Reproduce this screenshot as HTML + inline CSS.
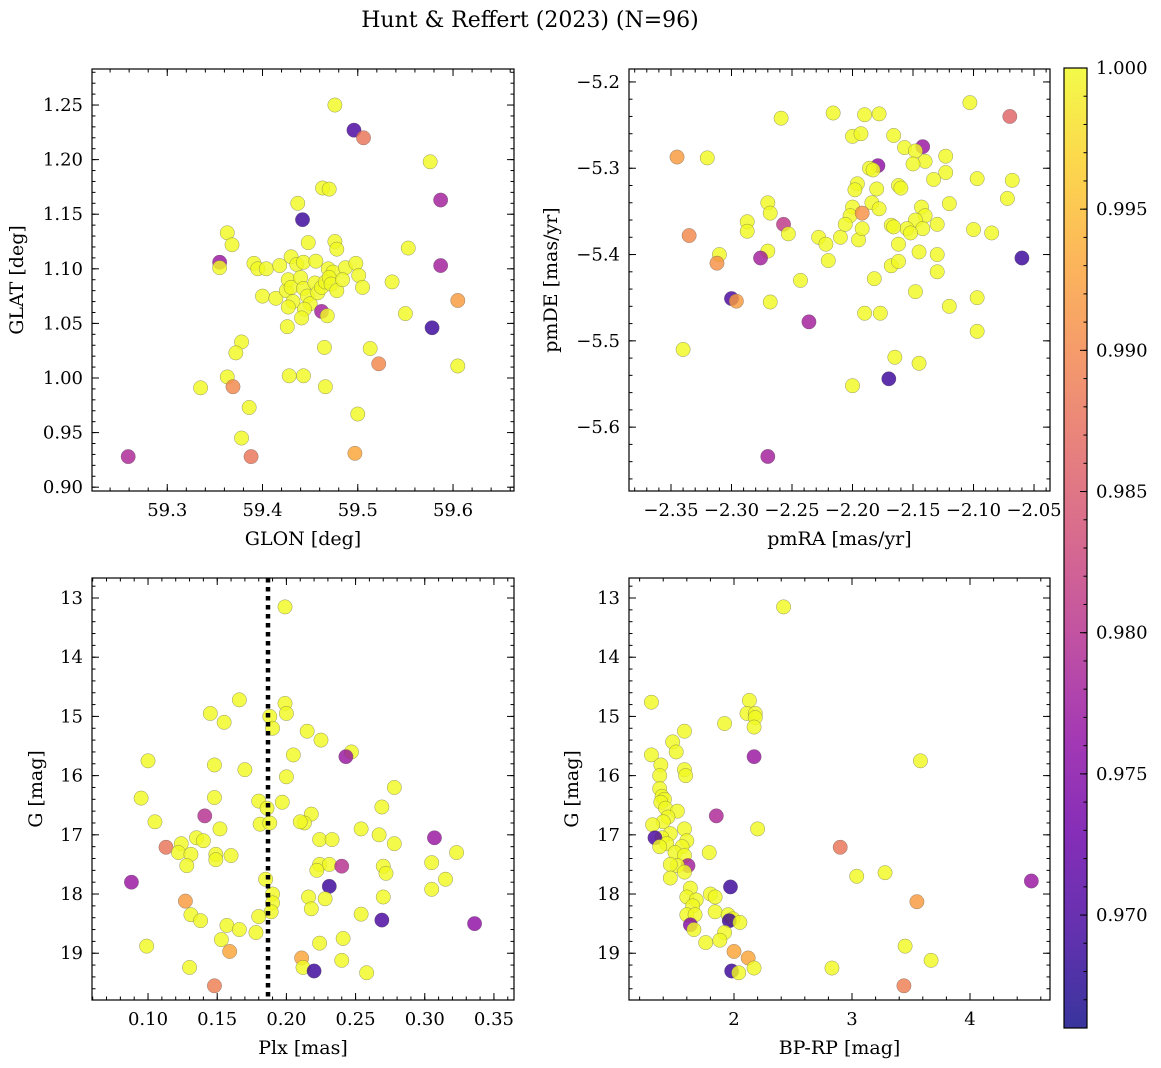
<!DOCTYPE html>
<html><head><meta charset="utf-8"><style>
body{margin:0;background:#fff;}
svg{display:block;font-family:"DejaVu Serif","Liberation Serif",serif;}
</style></head><body>
<svg id="fig" width="1161" height="1068" viewBox="0 0 1161 1068" xmlns="http://www.w3.org/2000/svg">
<defs>
<linearGradient id="plasma" x1="0" y1="1" x2="0" y2="0">
<stop offset="0" stop-color="#0d0887"/><stop offset="0.1" stop-color="#41049d"/><stop offset="0.2" stop-color="#6a00a8"/><stop offset="0.3" stop-color="#8f0da4"/><stop offset="0.4" stop-color="#b12a90"/><stop offset="0.5" stop-color="#cc4778"/><stop offset="0.6" stop-color="#e16462"/><stop offset="0.7" stop-color="#f2844b"/><stop offset="0.8" stop-color="#fca636"/><stop offset="0.9" stop-color="#fcce25"/><stop offset="1" stop-color="#f0f921"/>
</linearGradient>
</defs>
<text x="530" y="27" font-size="22" text-anchor="middle">Hunt &amp; Reffert (2023) (N=96)</text>
</svg>
<script>
// Panel 1: GLON / GLAT
const glon1=[59.476,59.496,59.506,59.576,59.587,59.463,59.470,59.437,59.442,59.363,59.368,59.355,59.355,59.476,59.478,59.448,59.391,59.395,59.404,59.418,59.430,59.436,59.443,59.456,59.469,59.474,59.487,59.498,59.501,59.536,59.553,59.587,59.605,59.400,59.414,59.425,59.427,59.430,59.432,59.440,59.443,59.447,59.450,59.455,59.458,59.462,59.466,59.470,59.472,59.478,59.484,59.505,59.427,59.444,59.462,59.468,59.441,59.426,59.578,59.550,59.378,59.372,59.465,59.513,59.363,59.369,59.335,59.428,59.443,59.466,59.522,59.605,59.386,59.500,59.378,59.259,59.388,59.497];
const glat1=[1.250,1.227,1.220,1.198,1.163,1.174,1.173,1.160,1.145,1.133,1.122,1.106,1.101,1.125,1.118,1.124,1.105,1.100,1.100,1.103,1.111,1.104,1.106,1.107,1.100,1.097,1.101,1.105,1.094,1.088,1.119,1.103,1.071,1.075,1.073,1.080,1.090,1.083,1.070,1.092,1.082,1.075,1.068,1.087,1.078,1.083,1.088,1.092,1.086,1.080,1.090,1.083,1.065,1.063,1.061,1.057,1.055,1.047,1.046,1.059,1.033,1.023,1.028,1.027,1.001,0.992,0.991,1.002,1.002,0.992,1.013,1.011,0.973,0.967,0.945,0.928,0.928,0.931];
const prob1=[1,0.970,0.988,1,0.978,1,1,1,0.969,1,1,0.977,1,1,1,1,1,1,1,1,1,1,1,1,1,1,1,1,1,1,1,0.978,0.992,1,1,1,1,1,1,1,1,1,1,1,1,1,1,1,1,1,1,1,1,1,0.978,1,1,1,0.969,1,1,1,1,1,1,0.990,1,1,1,1,0.990,1,1,1,1,0.979,0.988,0.993];
// Panel 2: pmRA / pmDE
const pmra2=[-2.103,-2.216,-2.190,-2.178,-2.070,-2.345,-2.259,-2.166,-2.200,-2.193,-2.142,-2.157,-2.148,-2.123,-2.123,-2.320,-2.140,-2.179,-2.186,-2.183,-2.150,-2.196,-2.198,-2.180,-2.162,-2.160,-2.133,-2.097,-2.068,-2.072,-2.120,-2.184,-2.200,-2.202,-2.192,-2.178,-2.143,-2.140,-2.148,-2.142,-2.130,-2.155,-2.152,-2.168,-2.166,-2.100,-2.085,-2.270,-2.268,-2.287,-2.287,-2.257,-2.253,-2.228,-2.222,-2.210,-2.206,-2.195,-2.192,-2.162,-2.168,-2.162,-2.145,-2.130,-2.130,-2.060,-2.335,-2.310,-2.312,-2.270,-2.276,-2.243,-2.220,-2.182,-2.148,-2.300,-2.296,-2.268,-2.120,-2.097,-2.236,-2.190,-2.177,-2.097,-2.340,-2.165,-2.145,-2.200,-2.170,-2.270];
const pmde2=[-5.224,-5.236,-5.238,-5.237,-5.240,-5.287,-5.242,-5.262,-5.263,-5.260,-5.275,-5.276,-5.280,-5.286,-5.305,-5.288,-5.292,-5.297,-5.300,-5.302,-5.295,-5.318,-5.325,-5.324,-5.320,-5.323,-5.313,-5.312,-5.314,-5.335,-5.341,-5.340,-5.345,-5.355,-5.352,-5.347,-5.345,-5.355,-5.360,-5.370,-5.365,-5.370,-5.375,-5.366,-5.368,-5.371,-5.375,-5.340,-5.352,-5.362,-5.373,-5.365,-5.376,-5.380,-5.388,-5.380,-5.365,-5.383,-5.370,-5.388,-5.413,-5.408,-5.397,-5.400,-5.420,-5.404,-5.378,-5.400,-5.410,-5.396,-5.404,-5.430,-5.407,-5.428,-5.443,-5.451,-5.454,-5.455,-5.460,-5.450,-5.478,-5.468,-5.468,-5.489,-5.510,-5.519,-5.526,-5.552,-5.544,-5.634];
const prob2=[1,1,1,1,0.986,0.992,1,1,1,1,0.977,1,1,1,1,1,1,0.976,1,1,1,1,1,1,1,1,1,1,1,1,1,1,1,1,0.991,1,1,1,1,1,1,1,1,1,1,1,1,1,1,1,1,0.981,1,1,1,1,1,1,1,1,1,1,1,1,1,0.969,0.990,1,0.991,1,0.978,1,1,1,1,0.970,0.992,1,1,1,0.978,1,1,1,1,1,1,1,0.969,0.978];
// Panel 3: Plx / G
const plx3=[0.199,0.166,0.199,0.145,0.200,0.188,0.155,0.190,0.215,0.225,0.205,0.247,0.243,0.100,0.148,0.170,0.200,0.278,0.095,0.148,0.180,0.197,0.186,0.269,0.218,0.105,0.141,0.181,0.188,0.213,0.210,0.152,0.254,0.267,0.135,0.140,0.124,0.224,0.233,0.307,0.113,0.122,0.160,0.131,0.149,0.149,0.128,0.224,0.231,0.240,0.270,0.278,0.323,0.305,0.222,0.272,0.185,0.315,0.088,0.231,0.305,0.190,0.270,0.216,0.228,0.127,0.190,0.218,0.189,0.254,0.131,0.138,0.180,0.269,0.336,0.157,0.166,0.178,0.153,0.224,0.241,0.099,0.159,0.211,0.240,0.130,0.212,0.220,0.258,0.148];
const g3=[13.15,14.72,14.78,14.95,14.95,15.00,15.10,15.20,15.25,15.40,15.65,15.60,15.68,15.75,15.82,15.90,16.02,16.20,16.38,16.37,16.43,16.45,16.55,16.53,16.65,16.78,16.68,16.82,16.80,16.80,16.78,16.90,16.90,17.00,17.05,17.10,17.15,17.08,17.08,17.05,17.21,17.30,17.35,17.33,17.33,17.42,17.52,17.50,17.50,17.53,17.53,17.15,17.30,17.47,17.60,17.65,17.75,17.75,17.80,17.87,17.92,18.00,18.05,18.05,18.08,18.12,18.15,18.25,18.30,18.34,18.35,18.45,18.38,18.44,18.50,18.53,18.60,18.65,18.77,18.83,18.75,18.88,18.97,19.08,19.12,19.24,19.24,19.30,19.33,19.55];
const prob3=[1,1,1,1,1,1,1,1,1,1,1,1,0.977,1,1,1,1,1,1,1,1,1,1,1,1,1,0.980,1,1,1,1,1,1,1,1,1,1,1,1,0.977,0.988,1,1,1,1,1,1,1,1,0.980,1,1,1,1,1,1,1,1,0.977,0.969,1,1,1,1,1,0.992,1,1,1,1,1,1,1,0.970,0.976,1,1,1,1,1,1,1,0.993,0.993,1,1,1,0.969,1,0.989];
// Panel 4: BP-RP / G
const bprp4=[2.42,1.30,2.13,2.11,2.18,2.18,2.17,1.92,1.48,1.58,1.30,1.51,2.17,3.58,1.38,1.58,1.37,1.59,1.37,1.39,1.41,1.38,1.42,1.52,1.85,1.44,1.40,1.31,1.58,2.20,1.46,1.39,1.33,1.43,1.60,1.37,1.56,1.50,1.79,1.58,1.61,1.52,1.46,2.90,3.04,3.28,1.58,1.46,1.97,1.63,1.80,1.84,1.60,1.68,1.65,1.84,1.60,1.67,1.95,1.99,1.96,2.05,1.63,1.66,1.92,1.76,1.88,3.55,4.52,2.00,2.12,3.45,3.67,2.17,2.83,1.98,2.04,3.44];
const g4=[13.15,14.76,14.73,14.95,14.95,15.02,15.18,15.12,15.43,15.25,15.65,15.60,15.68,15.75,15.82,15.90,16.00,16.00,16.22,16.35,16.40,16.45,16.55,16.60,16.68,16.70,16.78,16.83,16.90,16.90,16.98,17.05,17.05,17.15,17.10,17.20,17.20,17.30,17.30,17.35,17.52,17.52,17.50,17.21,17.70,17.64,17.63,17.73,17.88,17.90,18.00,18.05,18.05,18.10,18.20,18.30,18.35,18.35,18.35,18.42,18.45,18.48,18.52,18.60,18.65,18.82,18.78,18.13,17.78,18.97,19.08,18.88,19.12,19.25,19.25,19.30,19.33,19.55];
const prob4=[1,1,1,1,1,1,1,1,1,1,1,1,0.977,1,1,1,1,1,1,1,1,1,1,1,0.979,1,1,1,1,1,1,1,0.970,1,1,1,1,1,1,1,0.978,1,1,0.988,1,1,1,1,0.969,1,1,1,1,1,1,1,1,1,1,1,0.969,1,0.975,1,1,1,1,0.992,0.977,0.993,0.993,1,1,1,1,0.969,1,0.989];
// Colorbar
const cbTicks=[0.970,0.975,0.980,0.985,0.990,0.995,1.000];
const vmin=0.966, vmax=1.0;

const NS="http://www.w3.org/2000/svg";
const svg=document.getElementById('fig');
function mk(tag,attrs,parent){const e=document.createElementNS(NS,tag);for(const k in attrs)e.setAttribute(k,attrs[k]);(parent||svg).appendChild(e);return e;}
const stops=[[0,[13,8,135]],[0.1,[65,4,157]],[0.2,[106,0,168]],[0.3,[143,13,164]],[0.4,[177,42,144]],[0.5,[204,71,120]],[0.6,[225,100,98]],[0.7,[242,132,75]],[0.8,[252,166,54]],[0.9,[252,206,37]],[1,[240,249,33]]];
function plasma(t){t=Math.max(0,Math.min(1,t));for(let i=1;i<stops.length;i++){if(t<=stops[i][0]){const a=stops[i-1],b=stops[i];const f=(t-a[0])/(b[0]-a[0]);const c=a[1].map((v,j)=>Math.round(v+(b[1][j]-v)*f));return `rgb(${c[0]},${c[1]},${c[2]})`;}}return 'rgb(240,249,33)';}
function fmt(v,d){return v.toFixed(d).replace('-','\u2212');}

function panel(o){
  const g=mk('g',{});
  
  
  const X=v=>o.x0+(v-o.xd[0])/(o.xd[1]-o.xd[0])*(o.x1-o.x0);
  const Y=o.inv?(v=>o.y0+(v-o.yd[0])/(o.yd[1]-o.yd[0])*(o.y1-o.y0)):(v=>o.y1-(v-o.yd[0])/(o.yd[1]-o.yd[0])*(o.y1-o.y0));
  const pts=mk('g',{},g);
  
  
  for(let i=0;i<o.xs.length;i++){
    const c=mk('circle',{cx:X(o.xs[i]),cy:Y(o.ys[i]),r:7.2,fill:plasma((o.cs[i]-vmin)/(vmax-vmin)),'fill-opacity':0.82,stroke:'#555','stroke-width':0.5,'stroke-opacity':0.6},pts);
    
    
  }
  if(o.vline!==undefined){
    const l=mk('line',{x1:X(o.vline),x2:X(o.vline),y1:o.y0,y2:o.y1,stroke:'#000','stroke-width':4.5,'stroke-dasharray':'4.5,4.5'},g);
    
    
  }
  const tk=mk('g',{stroke:'#000','stroke-width':1},g);
  
  
  for(let v=Math.ceil(o.xd[0]/o.xmin)*o.xmin;v<=o.xd[1];v+=o.xmin){const px=X(v);mk('line',{x1:px,x2:px,y1:o.y1,y2:o.y1-3.5},tk);mk('line',{x1:px,x2:px,y1:o.y0,y2:o.y0+3.5},tk);}
  for(let v=Math.ceil(o.yd[0]/o.ymin)*o.ymin;v<=o.yd[1];v+=o.ymin){const py=Y(v);mk('line',{x1:o.x0,x2:o.x0+3.5,y1:py,y2:py},tk);mk('line',{x1:o.x1,x2:o.x1-3.5,y1:py,y2:py},tk);}
  o.xt.forEach(v=>{const px=X(v);mk('line',{x1:px,x2:px,y1:o.y1,y2:o.y1-7},tk);mk('line',{x1:px,x2:px,y1:o.y0,y2:o.y0+7},tk);
    const t=mk('text',{x:px,y:o.y1+25,'font-size':18,'text-anchor':'middle'},g);t.textContent=fmt(v,o.xdp);
    });
  o.yt.forEach(v=>{const py=Y(v);mk('line',{x1:o.x0,x2:o.x0+7,y1:py,y2:py},tk);mk('line',{x1:o.x1,x2:o.x1-7,y1:py,y2:py},tk);
    const t=mk('text',{x:o.x0-9,y:py+6,'font-size':18,'text-anchor':'end'},g);t.textContent=fmt(v,o.ydp);
    });
  const fr=mk('rect',{x:o.x0,y:o.y0,width:o.x1-o.x0,height:o.y1-o.y0,fill:'none',stroke:'#000','stroke-width':1.2},g);
  
  const xl=mk('text',{x:(o.x0+o.x1)/2,y:o.y1+54,'font-size':19,'text-anchor':'middle'},g);xl.textContent=o.xlab;
  
  const yl=mk('text',{x:0,y:0,'font-size':19,'text-anchor':'middle',transform:`translate(${o.ylx},${(o.y0+o.y1)/2}) rotate(-90)`},g);yl.textContent=o.ylab;
  
}
panel({name:'glon-glat-panel',x0:92,x1:514,y0:69,y1:491,xd:[59.221,59.664],yd:[0.8965,1.283],xs:glon1,ys:glat1,cs:prob1,xt:[59.3,59.4,59.5,59.6],xdp:1,xmin:0.02,yt:[0.90,0.95,1.00,1.05,1.10,1.15,1.20,1.25],ydp:2,ymin:0.01,xlab:'GLON [deg]',ylab:'GLAT [deg]',ylx:23});
panel({name:'proper-motion-panel',x0:629,x1:1050,y0:69,y1:491,xd:[-2.3847,-2.0368],yd:[-5.674,-5.185],xs:pmra2,ys:pmde2,cs:prob2,xt:[-2.35,-2.30,-2.25,-2.20,-2.15,-2.10,-2.05],xdp:2,xmin:0.01,yt:[-5.6,-5.5,-5.4,-5.3,-5.2],ydp:1,ymin:0.02,xlab:'pmRA [mas/yr]',ylab:'pmDE [mas/yr]',ylx:557});
panel({name:'parallax-mag-panel',x0:92,x1:514,y0:578,y1:1000,inv:true,xd:[0.0595,0.3645],yd:[12.662,19.79],xs:plx3,ys:g3,cs:prob3,vline:0.1867,xt:[0.10,0.15,0.20,0.25,0.30,0.35],xdp:2,xmin:0.01,yt:[13,14,15,16,17,18,19],ydp:0,ymin:0.2,xlab:'Plx [mas]',ylab:'G [mag]',ylx:42});
panel({name:'cmd-panel',x0:629,x1:1050,y0:578,y1:1000,inv:true,xd:[1.110,4.678],yd:[12.662,19.79],xs:bprp4,ys:g4,cs:prob4,xt:[2,3,4],xdp:0,xmin:0.2,yt:[13,14,15,16,17,18,19],ydp:0,ymin:0.2,xlab:'BP-RP [mag]',ylab:'G [mag]',ylx:578});

const cb=mk('g',{});


const cbx=1064,cbw=23,cby0=68,cby1=1028;
mk('rect',{x:cbx,y:cby0,width:cbw,height:cby1-cby0,fill:'url(#plasma)','fill-opacity':0.82},cb);
mk('rect',{x:cbx,y:cby0,width:cbw,height:cby1-cby0,fill:'none',stroke:'#000','stroke-width':1.2},cb);
const CY=v=>cby1-(v-vmin)/(vmax-vmin)*(cby1-cby0);
for(let v=0.967;v<1.0005;v+=0.001){mk('line',{x1:cbx+cbw,x2:cbx+cbw-3.5,y1:CY(v),y2:CY(v),stroke:'#000'},cb);}
cbTicks.forEach(v=>{const y=CY(v);mk('line',{x1:cbx+cbw,x2:cbx+cbw-7,y1:y,y2:y,stroke:'#000'},cb);
  const t=mk('text',{x:cbx+cbw+9,y:y+6,'font-size':18},cb);t.textContent=v.toFixed(3);
  });
</script>
</body></html>
